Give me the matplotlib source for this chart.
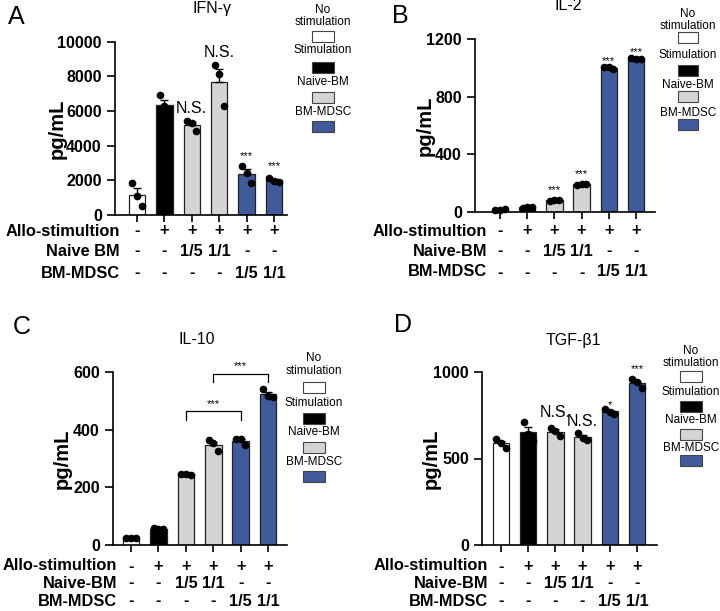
import numpy as np
import matplotlib
matplotlib.use("Agg")
import matplotlib.pyplot as plt
from matplotlib.patches import Rectangle
import matplotlib.transforms as mtrans

plt.rcParams['font.family'] = ['Liberation Sans', 'DejaVu Sans']

# --- data (pg/mL, three replicates per group) ---
groups = ["No stimulation", "Stimulation", "Naive-BM 1/5", "Naive-BM 1/1",
          "BM-MDSC 1/5", "BM-MDSC 1/1"]
bar_colors = ["white", "black", "#d4d4d4", "#d4d4d4", "#3f5b9c", "#3f5b9c"]

ifng = [[1850, 1100, 500], [6900, 6300, 5800], [5400, 5300, 4850],
        [8650, 8130, 6290], [2830, 2440, 1865], [2115, 1980, 1885]]
il2 = [[12, 15, 18], [30, 35, 38], [78, 80, 83],
       [190, 193, 197], [1008, 1003, 995], [1067, 1060, 1058]]
il10 = [[25, 25, 24], [58, 57, 56], [246, 245, 244],
        [363, 354, 325], [367, 369, 348], [540, 517, 513]]
tgfb = [[611, 592, 562], [712, 640, 600], [677, 658, 631],
        [648, 621, 606], [788, 769, 760], [958, 942, 908]]

allo = ["-", "+", "+", "+", "+", "+"]
naive = ["-", "-", "1/5", "1/1", "-", "-"]
mdsc = ["-", "-", "-", "-", "1/5", "1/1"]

W, H = 720, 611
fig = plt.figure(figsize=(7.2, 6.11), dpi=100)


def fy(py):
    return 1 - py / H


def panel(rect, data, ylim, yticks, title, letter, xlim, row_names, rows_py,
          label_x, ylab_x, title_xy, letter_xy, legend_x, legend_py, stars,
          bw=22):
    ax = fig.add_axes(rect)
    x = np.arange(len(data))
    means = [np.mean(d) for d in data]
    sems = [np.std(d, ddof=1) / np.sqrt(len(d)) for d in data]
    ax.bar(x, means, width=0.6, color=bar_colors, edgecolor="#222222",
           linewidth=0.9, zorder=2)
    ax.errorbar(x, means, yerr=[np.zeros(len(x)), sems], fmt="none",
                ecolor="black", elinewidth=1.0, capsize=3, capthick=1.0,
                zorder=3)
    for i, d in enumerate(data):
        offs = np.array([-0.17, 0.0, 0.17])
        ax.plot(x[i] + offs, d, "o", color="black", markersize=4.5,
                zorder=4, clip_on=False)
    ax.set_xlim(*xlim)
    ax.set_ylim(*ylim)
    ax.set_yticks(yticks)
    ax.set_xticks(x)
    ax.set_xticklabels([])
    ax.tick_params(axis="y", labelsize=11.5, width=1.2, length=6)
    ax.tick_params(axis="x", width=1.2, length=5)
    for t in ax.get_yticklabels():
        t.set_fontweight("bold")
    for s in ["top", "right"]:
        ax.spines[s].set_visible(False)
    for s in ["left", "bottom"]:
        ax.spines[s].set_linewidth(1.2)

    for txt, xx, yy, fs in stars:
        ax.text(xx, yy, txt, ha="center", va="center", fontsize=fs)

    fig.text(ylab_x / W, rect[1] + rect[3] / 2, "pg/mL", rotation=90,
             ha="center", va="center", fontsize=14.5, fontweight="bold")
    fig.text(title_xy[0] / W, fy(title_xy[1]), title, ha="center",
             va="center", fontsize=11.5)
    fig.text(letter_xy[0] / W, fy(letter_xy[1]), letter, ha="center",
             va="center", fontsize=18)

    tr = mtrans.blended_transform_factory(ax.transData, fig.transFigure)
    for name, vals, py in zip(row_names, [allo, naive, mdsc], rows_py):
        fig.text(label_x / W, fy(py), name, ha="right", va="center",
                 fontsize=11.8, fontweight="bold")
        for i, v in enumerate(vals):
            ax.text(x[i], fy(py), v, ha="center", va="center", fontsize=11.8,
                    fontweight="bold", transform=tr)

    # legend drawn by hand
    names = [("No", "stimulation"), ("Stimulation",), ("Naive-BM",),
             ("BM-MDSC",)]
    cols = ["white", "black", "#d4d4d4", "#3f5b9c"]
    bh = 11
    for (lines, c, (ty, by)) in zip(names, cols, legend_py):
        for ln, yy in zip(lines, ty):
            fig.text(legend_x / W, fy(yy), ln, ha="center", va="center",
                     fontsize=8.5)
        fig.patches.append(Rectangle(((legend_x - bw / 2) / W, fy(by + bh)),
                                     bw / W, bh / H, facecolor=c,
                                     edgecolor="#444444", linewidth=0.8,
                                     transform=fig.transFigure, figure=fig))
    return ax


# Panel A
panel([115 / W, fy(215), 172 / W, (215 - 41.7) / H], ifng, (0, 10000),
      [0, 2000, 4000, 6000, 8000, 10000], "IFN-\u03b3", "A", (-0.8, 5.47),
      ["Allo-stimultion", "Naive BM", "BM-MDSC"], [231, 251, 273],
      120, 57, (212, 9), (16, 17), 323,
      [((10, 22), 31), ((50,), 62), ((82,), 92), ((112,), 121)],
      [("N.S.", 2, 6150, 11.5), ("N.S.", 3, 9400, 11.5),
       ("***", 4, 3400, 8), ("***", 5, 2800, 8)])

# Panel B
panel([475 / W, fy(212), 180 / W, (212 - 39) / H], il2, (0, 1200),
      [0, 400, 800, 1200], "IL-2", "B", (-0.92, 5.70),
      ["Allo-stimultion", "Naive-BM", "BM-MDSC"], [231, 251, 272],
      487, 425, (568, 6), (400, 16), 688,
      [((14, 26), 32), ((55,), 65), ((85,), 91), ((113,), 119)],
      [("***", 2, 150, 8), ("***", 3, 265, 8),
       ("***", 4, 1050, 8), ("***", 5, 1110, 8)], bw=20)

# Panel C
axc = panel([113 / W, fy(545), 174 / W, 173 / H], il10, (0, 600),
            [0, 200, 400, 600], "IL-10", "C", (-0.66, 5.69),
            ["Allo-stimultion", "Naive-BM", "BM-MDSC"], [566, 583, 601],
            117, 62, (197, 340), (22, 327), 314,
            [((358, 371), 382), ((403,), 413), ((432,), 442), ((462,), 471)],
            [("***", 3, 490, 8), ("***", 4, 620, 8)])
for x0, x1, ytop, ybot in [(2, 4, 465, 435), (3, 5, 593, 565)]:
    axc.plot([x0, x0, x1, x1], [ybot, ytop, ytop, ybot], color="black",
             linewidth=0.9, clip_on=False)

# Panel D
panel([482 / W, fy(545), 175 / W, 173 / H], tgfb, (0, 1000),
      [0, 500, 1000], "TGF-\u03b21", "D", (-0.70, 5.74),
      ["Allo-stimultion", "Naive-BM", "BM-MDSC"], [566, 583, 601],
      488, 431, (573, 340), (403, 325), 691,
      [((351, 363), 371), ((392,), 401), ((420,), 429), ((448,), 455)],
      [("N.S.", 2, 765, 11.5), ("N.S.", 3, 712, 11.5),
       ("*", 4, 808, 8), ("***", 5, 1015, 8)])

fig.savefig("out.png", dpi=100)
